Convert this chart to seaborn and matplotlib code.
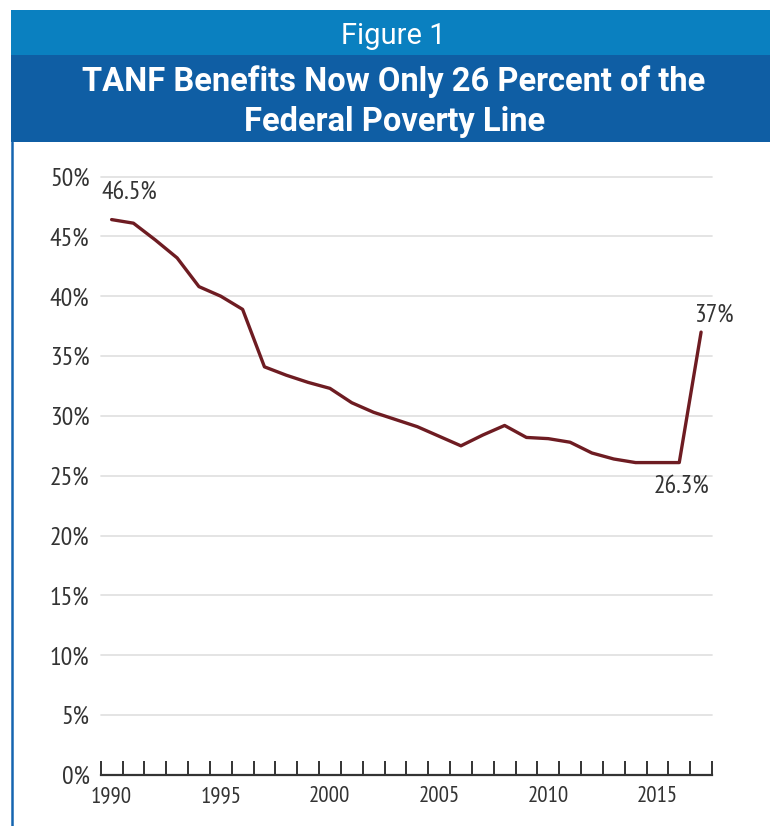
import matplotlib
matplotlib.use("Agg")
import matplotlib.pyplot as plt
import seaborn as sns
import pandas as pd
from matplotlib.patches import Rectangle
from matplotlib.lines import Line2D
from matplotlib.ticker import FixedLocator

years = list(range(1990, 2018))
benefit_pct = [46.4, 46.1, 44.7, 43.2, 40.8, 40.0, 38.9, 34.1, 33.4, 32.8,
               32.3, 31.1, 30.3, 29.7, 29.1, 28.3, 27.5, 28.4, 29.2, 28.2,
               28.1, 27.8, 26.9, 26.4, 26.1, 26.1, 26.1, 37.0]
y_ticks = [0, 5, 10, 15, 20, 25, 30, 35, 40, 45, 50]
x_label_years = [1990, 1995, 2000, 2005, 2010, 2015]
annotations = [(1990, "46.5%"), (2016, "26.3%"), (2017, "37%")]

title_top = "Figure 1"
title_lines = ["TANF Benefits Now Only 26 Percent of the", "Federal Poverty Line"]

sns.set_theme(style="white")
TICKFONT = ["PT Sans Narrow", "DejaVu Sans"]
TITLEFONT = ["Roboto", "DejaVu Sans"]
plt.rcParams["font.family"] = TICKFONT

W, H = 770, 826
fig = plt.figure(figsize=(W / 100, H / 100), dpi=100)
fig.patch.set_facecolor("white")

def fx(px):
    return px / W

def fy(py):
    return 1 - py / H

# header bands
fig.patches.append(Rectangle((fx(11), fy(55)), fx(W - 11), fy(10) - fy(55),
                             transform=fig.transFigure, facecolor="#0A80C0", edgecolor="none"))
fig.patches.append(Rectangle((fx(11), fy(142)), fx(W - 11), fy(55) - fy(142),
                             transform=fig.transFigure, facecolor="#0F5EA4", edgecolor="none"))
# left border
fig.lines.append(Line2D([fx(12), fx(12)], [fy(142), 0], transform=fig.transFigure,
                        color="#1565B0", linewidth=1.8))

fig.text(fx(393), fy(44), title_top, color="white", fontsize=21, fontweight="normal",
         family=TITLEFONT, ha="center", va="baseline")
fig.text(fx(394), fy(91.5), title_lines[0], color="white", fontsize=23.5, fontweight="bold",
         family=TITLEFONT, ha="center", va="baseline")
fig.text(fx(395), fy(131), title_lines[1], color="white", fontsize=23.5, fontweight="bold",
         family=TITLEFONT, ha="center", va="baseline")

# axes
left, right = 100.7, 712
top, bottom = 176.5, 775
ax = fig.add_axes([fx(left), fy(bottom), fx(right - left), fy(top) - fy(bottom)])
ax.set_facecolor("white")

df = pd.DataFrame({"year": years, "pct": benefit_pct})
sns.lineplot(data=df, x="year", y="pct", ax=ax, color="#6E1C22", linewidth=2.4, zorder=3)

ax.set_xlim(1989.5, 2017.5)
ax.set_ylim(0, 50)
ax.set_xlabel("")
ax.set_ylabel("")

ax.yaxis.set_major_locator(FixedLocator(y_ticks))
ax.set_yticklabels([f"{v}%" for v in y_ticks])
ax.tick_params(axis="y", length=0, pad=8, labelsize=18.5, labelcolor="#333333")
for v in y_ticks[1:]:
    ax.axhline(v, color="#E2E2E2", linewidth=1.3, zorder=1, clip_on=False)

ax.xaxis.set_major_locator(FixedLocator(x_label_years))
ax.set_xticklabels([str(y) for y in x_label_years])
ax.xaxis.set_minor_locator(FixedLocator([y - 0.5 for y in years] + [years[-1] + 0.5]))
ax.tick_params(axis="x", which="major", length=0, pad=8, labelsize=16.5, labelcolor="#333333")
ax.tick_params(axis="x", which="minor", direction="in", length=10, width=1.4,
               color="#333333", bottom=True)

for s in ["top", "right", "left"]:
    ax.spines[s].set_visible(False)
ax.spines["bottom"].set_color("#333333")
ax.spines["bottom"].set_linewidth(1.6)

lookup = dict(zip(years, benefit_pct))
ax.annotate(annotations[0][1], xy=(annotations[0][0], lookup[annotations[0][0]]),
            xytext=(13, 20), textcoords="offset points", ha="center", va="center",
            fontsize=18.5, color="#333333", zorder=4,
            bbox=dict(facecolor="white", edgecolor="none", pad=1))
ax.annotate(annotations[1][1], xy=(annotations[1][0], lookup[annotations[1][0]]),
            xytext=(1.5, -17), textcoords="offset points", ha="center", va="center",
            fontsize=18.5, color="#333333")
ax.annotate(annotations[2][1], xy=(annotations[2][0], lookup[annotations[2][0]]),
            xytext=(9.5, 12.5), textcoords="offset points", ha="center", va="center",
            fontsize=18.5, color="#333333")

fig.savefig("out.png", dpi=100, facecolor="white")
